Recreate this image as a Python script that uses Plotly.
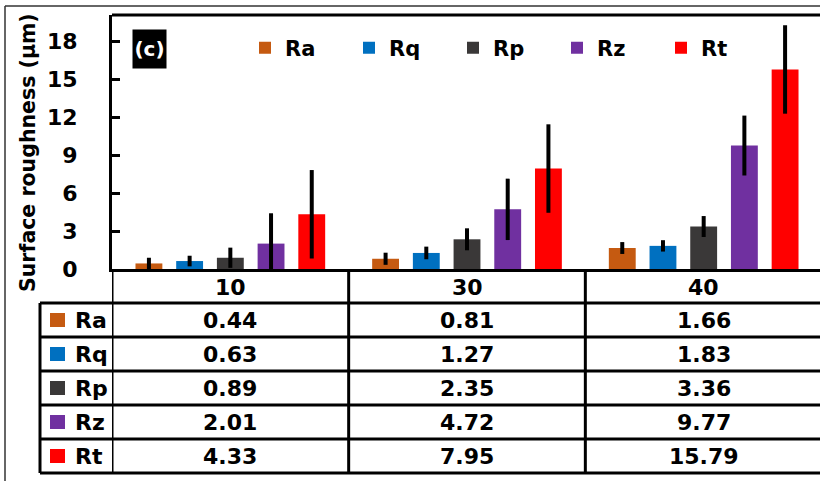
import plotly.graph_objects as go

categories = ["10", "30", "40"]
series_names = ["Ra", "Rq", "Rp", "Rz", "Rt"]
series_colors = ["#C55A11", "#0070C0", "#3A3838", "#7030A0", "#FF0000"]
values = {
    "Ra": [0.44, 0.81, 1.66],
    "Rq": [0.63, 1.27, 1.83],
    "Rp": [0.89, 2.35, 3.36],
    "Rz": [2.01, 4.72, 9.77],
    "Rt": [4.33, 7.95, 15.79],
}
errors = {
    "Ra": [0.45, 0.48, 0.47],
    "Rq": [0.42, 0.50, 0.45],
    "Rp": [0.80, 0.87, 0.83],
    "Rz": [2.40, 2.43, 2.37],
    "Rt": [3.50, 3.50, 3.50],
}
y_ticks = [0, 3, 6, 9, 12, 15, 18]
y_title = "Surface roughness (μm)"
panel_label = "(c)"

W, H = 820, 481
ML, MT, MB = 112, 15, 212
PW = W - ML
PH = H - MT - MB
FONT = "DejaVu Sans"


def px2x(px):
    return (px - ML) / PW


def py2y(py):
    return (H - MB - py) / PH


fig = go.Figure()
for name, color in zip(series_names, series_colors):
    fig.add_trace(go.Bar(
        x=categories, y=values[name], name=name,
        marker=dict(color=color, line=dict(width=0)),
        error_y=dict(type="data", array=errors[name], visible=True,
                     color="black", thickness=4, width=0),
    ))

shapes = []
LW = 3
# top frame of plot
shapes.append(dict(type="line", xref="paper", yref="paper", x0=0, x1=1.01,
                   y0=1, y1=1, line=dict(color="black", width=LW)))
# outer border
shapes.append(dict(type="line", xref="paper", yref="paper", x0=px2x(5), x1=px2x(5),
                   y0=py2y(6), y1=py2y(485), line=dict(color="#333", width=1.5)))
shapes.append(dict(type="line", xref="paper", yref="paper", x0=px2x(5), x1=1.01,
                   y0=py2y(6), y1=py2y(6), line=dict(color="#333", width=1.5)))

header_top = H - MB
row_top = 303
row_h = 34
n_rows = len(series_names)
table_bottom = row_top + n_rows * row_h
# vertical grid lines at category boundaries
for b in [-0.5, 0.5, 1.5]:
    shapes.append(dict(type="line", xref="x", yref="paper", x0=b, x1=b,
                       y0=py2y(header_top), y1=py2y(table_bottom),
                       line=dict(color="black", width=LW)))
# legend column left line
shapes.append(dict(type="line", xref="paper", yref="paper", x0=px2x(40), x1=px2x(40),
                   y0=py2y(row_top), y1=py2y(table_bottom),
                   line=dict(color="black", width=LW)))
# horizontal row lines
for i in range(n_rows + 1):
    yy = py2y(row_top + i * row_h)
    shapes.append(dict(type="line", xref="paper", yref="paper", x0=px2x(40), x1=1.01,
                       y0=yy, y1=yy, line=dict(color="black", width=LW)))

annotations = []
cell_font = dict(family=FONT, size=22, color="black", weight="bold")
# header row (category labels)
for j, cat in enumerate(categories):
    annotations.append(dict(xref="x", yref="paper", x=j,
                            y=py2y((header_top + row_top) / 2 + 1),
                            xanchor="center", yanchor="middle", text=cat,
                            showarrow=False, font=cell_font))
for i, (name, color) in enumerate(zip(series_names, series_colors)):
    cy = row_top + i * row_h + row_h / 2
    shapes.append(dict(type="rect", xref="paper", yref="paper",
                       x0=px2x(50), x1=px2x(65), y0=py2y(cy - 7), y1=py2y(cy + 7),
                       fillcolor=color, line=dict(width=0)))
    annotations.append(dict(xref="paper", yref="paper", x=px2x(73), y=py2y(cy),
                            xanchor="left", yanchor="middle", text=name,
                            showarrow=False, font=cell_font))
    for j in range(len(categories)):
        annotations.append(dict(xref="x", yref="paper", x=j, y=py2y(cy),
                                xanchor="center", yanchor="middle",
                                text=f"{values[name][j]:.2f}",
                                showarrow=False, font=cell_font))

annotations.append(dict(xref="paper", yref="paper", x=px2x(28), y=py2y(153),
                        xanchor="center", yanchor="middle", text=y_title,
                        textangle=-90, showarrow=False,
                        font=dict(family=FONT, size=20.5, color="black", weight="bold")))
annotations.append(dict(xref="paper", yref="paper", x=px2x(149), y=py2y(49),
                        xanchor="center", yanchor="middle", text=panel_label,
                        showarrow=False, bgcolor="black", width=31, height=36,
                        font=dict(family=FONT, size=20, color="white", weight="bold")))

fig.update_layout(
    width=W, height=H,
    margin=dict(l=ML, r=0, t=MT, b=MB, pad=0),
    paper_bgcolor="white", plot_bgcolor="white",
    barmode="group", bargap=0.14, bargroupgap=0.34,
    font=dict(family=FONT, color="black"),
    showlegend=True,
    legend=dict(orientation="h", x=px2x(245), y=py2y(48), xanchor="left", yanchor="middle",
                font=dict(family=FONT, size=21, color="black", weight="bold"),
                entrywidth=59, entrywidthmode="pixels", bgcolor="rgba(0,0,0,0)",
                traceorder="normal", itemclick=False),
    xaxis=dict(type="category", categoryorder="array", categoryarray=categories,
               range=[-0.5, 2.4915], showline=True, linecolor="black", linewidth=LW,
               ticks="", showgrid=False, zeroline=False, showticklabels=False),
    yaxis=dict(range=[0, 20.1], tickvals=y_ticks, ticktext=[str(v) for v in y_ticks],
               showline=True, linecolor="black", linewidth=LW,
               ticks="inside", ticklen=8, tickwidth=2.5, tickcolor="black",
               showgrid=False, zeroline=False,
               tickfont=dict(family=FONT, size=22, color="black", weight="bold"),
               ticklabelstandoff=27),
    shapes=shapes, annotations=annotations,
)

fig.write_html("out.html", config={"displayModeBar": False},
               post_script="document.body.style.margin='0px';")
